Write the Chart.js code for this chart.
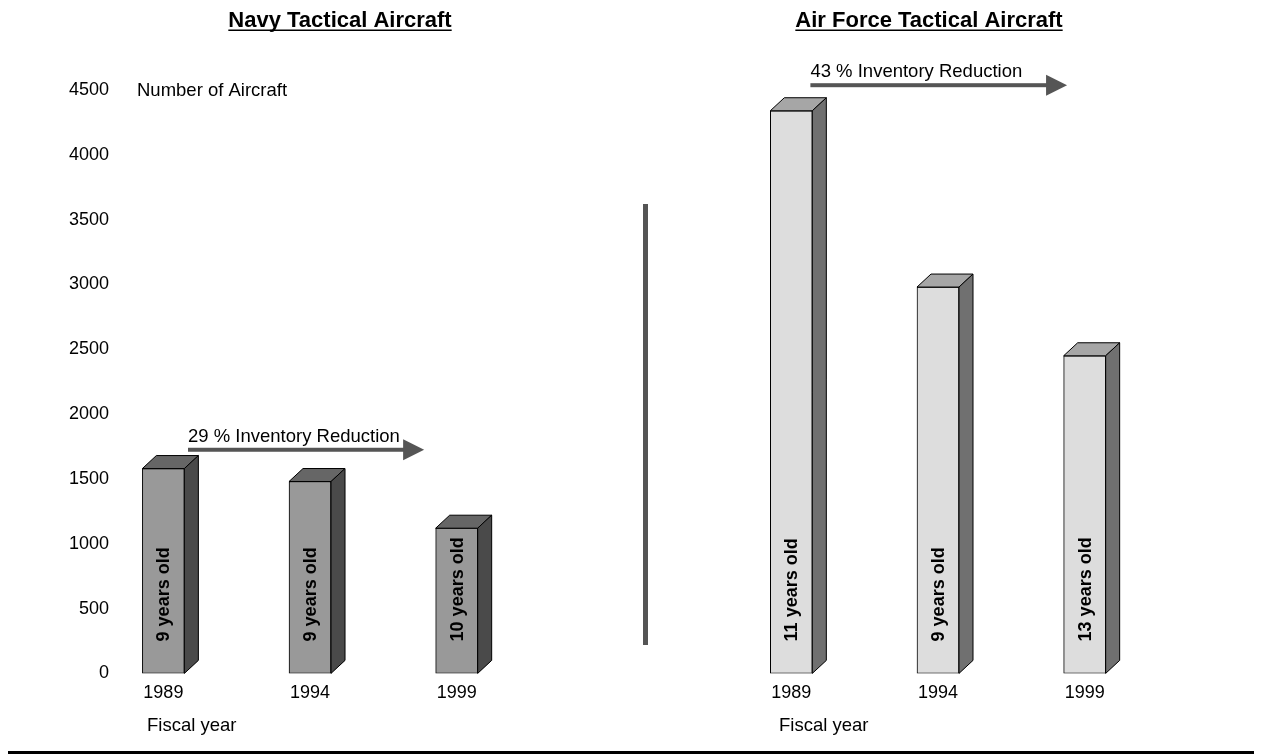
<!DOCTYPE html>
<html>
<head>
<meta charset="utf-8">
<script src="https://cdn.jsdelivr.net/npm/chart.js@4.4.0/dist/chart.umd.min.js"></script>
<style>
  html, body { margin: 0; padding: 0; background: #fff; }
  #wrap { position: relative; width: 1262px; height: 754px; }
  .panel { position: absolute; top: 0; width: 631px; height: 754px; }
  #divider { position: absolute; left: 643px; top: 204px; width: 5px; height: 441px; background: #555; }
  #rule { position: absolute; left: 8px; top: 751px; width: 1246px; height: 3px; background: #000; }
</style>
</head>
<body>
<div id="wrap">
  <div class="panel" style="left:0"><canvas id="navy"></canvas></div>
  <div class="panel" style="left:631px"><canvas id="airforce"></canvas></div>
  <div id="divider"></div>
  <div id="rule"></div>
</div>
<script>
// data
var years = ['1989', '1994', '1999'];
var navyCounts = [1580, 1480, 1120];
var airForceCounts = [4340, 2980, 2450];
var navyAges = ['9 years old', '9 years old', '10 years old'];
var airForceAges = ['11 years old', '9 years old', '13 years old'];

var FONT = "'Liberation Sans', Arial, sans-serif";
var DX = 14, DY = 13;

// draws the fake 3d faces, labels, arrows and titles
var panelPlugin = {
    id: 'panel',
    afterDatasetsDraw: function(chart, args, opts) {
        var ctx = chart.ctx;
        var xs = chart.scales.x, ys = chart.scales.y;
        var meta = chart.getDatasetMeta(0);
        ctx.save();
        ctx.lineWidth = 1;
        ctx.strokeStyle = '#000';
        meta.data.forEach(function(bar, i) {
            var l = bar.x - bar.width / 2, r = bar.x + bar.width / 2;
            var t = bar.y, b = bar.base;
            ctx.beginPath();
            ctx.moveTo(l, t); ctx.lineTo(l + DX, t - DY); ctx.lineTo(r + DX, t - DY); ctx.lineTo(r, t);
            ctx.closePath();
            ctx.fillStyle = opts.topColor; ctx.fill(); ctx.stroke();
            ctx.beginPath();
            ctx.moveTo(r, t); ctx.lineTo(r + DX, t - DY); ctx.lineTo(r + DX, b - DY); ctx.lineTo(r, b);
            ctx.closePath();
            ctx.fillStyle = opts.sideColor; ctx.fill(); ctx.stroke();

            ctx.save();
            ctx.translate(bar.x, b - 32);
            ctx.rotate(-Math.PI / 2);
            ctx.font = 'bold 18px ' + FONT;
            ctx.textAlign = 'left';
            ctx.textBaseline = 'middle';
            ctx.fillStyle = '#000';
            ctx.fillText(opts.ages[i], 0, 1);
            ctx.restore();
        });

        // arrow + text
        var a = opts.arrow;
        var ay = ys.getPixelForValue(a.value);
        var x0 = xs.getPixelForValue(a.from), x1 = xs.getPixelForValue(a.to);
        ctx.fillStyle = '#555';
        ctx.fillRect(x0, ay - 2, x1 - x0 - 20, 4);
        ctx.beginPath();
        ctx.moveTo(x1 - 21, ay - 10.5); ctx.lineTo(x1, ay); ctx.lineTo(x1 - 21, ay + 10.5);
        ctx.closePath();
        ctx.fill();
        ctx.fillStyle = '#000';
        ctx.font = '18.5px ' + FONT;
        ctx.textAlign = 'left';
        ctx.textBaseline = 'alphabetic';
        ctx.fillText(a.text, x0, ay - 8);

        // title, underlined
        ctx.font = 'bold 22px ' + FONT;
        ctx.textAlign = 'center';
        ctx.fillText(opts.title, opts.titleX, 27);
        var w = ctx.measureText(opts.title).width;
        ctx.fillRect(opts.titleX - w / 2, 29.5, w, 1.5);

        // axis captions
        ctx.font = '18.5px ' + FONT;
        ctx.textAlign = 'left';
        ctx.fillText('Fiscal year', opts.fiscalX, 731);
        if (opts.yCaption) {
            ctx.fillText(opts.yCaption, 137, ys.getPixelForValue(4500) + 6);
        }
        ctx.restore();
    }
};

function makePanel(id, counts, ages, colors, extra) {
    var ctx = document.getElementById(id).getContext('2d');
    return new Chart(ctx, {
        type: 'bar',
        data: {
            datasets: [{
                data: counts.map(function(v, i) { return { x: i, y: v }; }),
                backgroundColor: colors.front,
                borderColor: '#000',
                borderWidth: 1,
                borderSkipped: false,
                barThickness: 42
            }]
        },
        options: {
            responsive: true,
            maintainAspectRatio: false,
            animation: false,
            layout: { padding: extra.padding },
            plugins: {
                legend: { display: false },
                tooltip: { enabled: false },
                panel: {
                    topColor: colors.top,
                    sideColor: colors.side,
                    ages: ages,
                    arrow: extra.arrow,
                    title: extra.title,
                    titleX: extra.titleX,
                    fiscalX: extra.fiscalX,
                    yCaption: extra.yCaption
                }
            },
            scales: {
                x: {
                    type: 'linear',
                    offset: false,
                    min: -0.35,
                    max: 2.65,
                    grid: { display: false, drawTicks: false, offset: false },
                    border: { display: false },
                    afterBuildTicks: function(scale) {
                        scale.ticks = years.map(function(y, i) { return { value: i }; });
                    },
                    ticks: {
                        padding: 9,
                        color: '#000',
                        font: { family: FONT, size: 18 },
                        callback: function(v) { return years[v]; }
                    }
                },
                y: {
                    display: extra.showY,
                    min: 0,
                    max: 4500,
                    grid: { display: false, drawTicks: false },
                    border: { display: false },
                    ticks: {
                        stepSize: 500,
                        padding: 3,
                        color: '#000',
                        font: { family: FONT, size: 18 },
                        callback: function(v) { return String(v); }
                    }
                }
            }
        },
        plugins: [panelPlugin]
    });
}

makePanel('navy', navyCounts, navyAges,
    { front: '#999999', top: '#666666', side: '#4a4a4a' },
    {
        showY: true,
        padding: { left: 66, right: 79, top: 90, bottom: 41 },
        arrow: { value: 1725, from: 0.168, to: 1.778, text: '29 % Inventory Reduction' },
        title: 'Navy Tactical Aircraft',
        titleX: 340,
        fiscalX: 147,
        yCaption: 'Number of Aircraft'
    });

makePanel('airforce', airForceCounts, airForceAges,
    { front: '#dddddd', top: '#a6a6a6', side: '#707070' },
    {
        showY: false,
        padding: { left: 109, right: 82, top: 90, bottom: 41 },
        arrow: { value: 4537, from: 0.13, to: 1.88, text: '43 % Inventory Reduction' },
        title: 'Air Force Tactical Aircraft',
        titleX: 298,
        fiscalX: 148,
        yCaption: null
    });
</script>
</body>
</html>
